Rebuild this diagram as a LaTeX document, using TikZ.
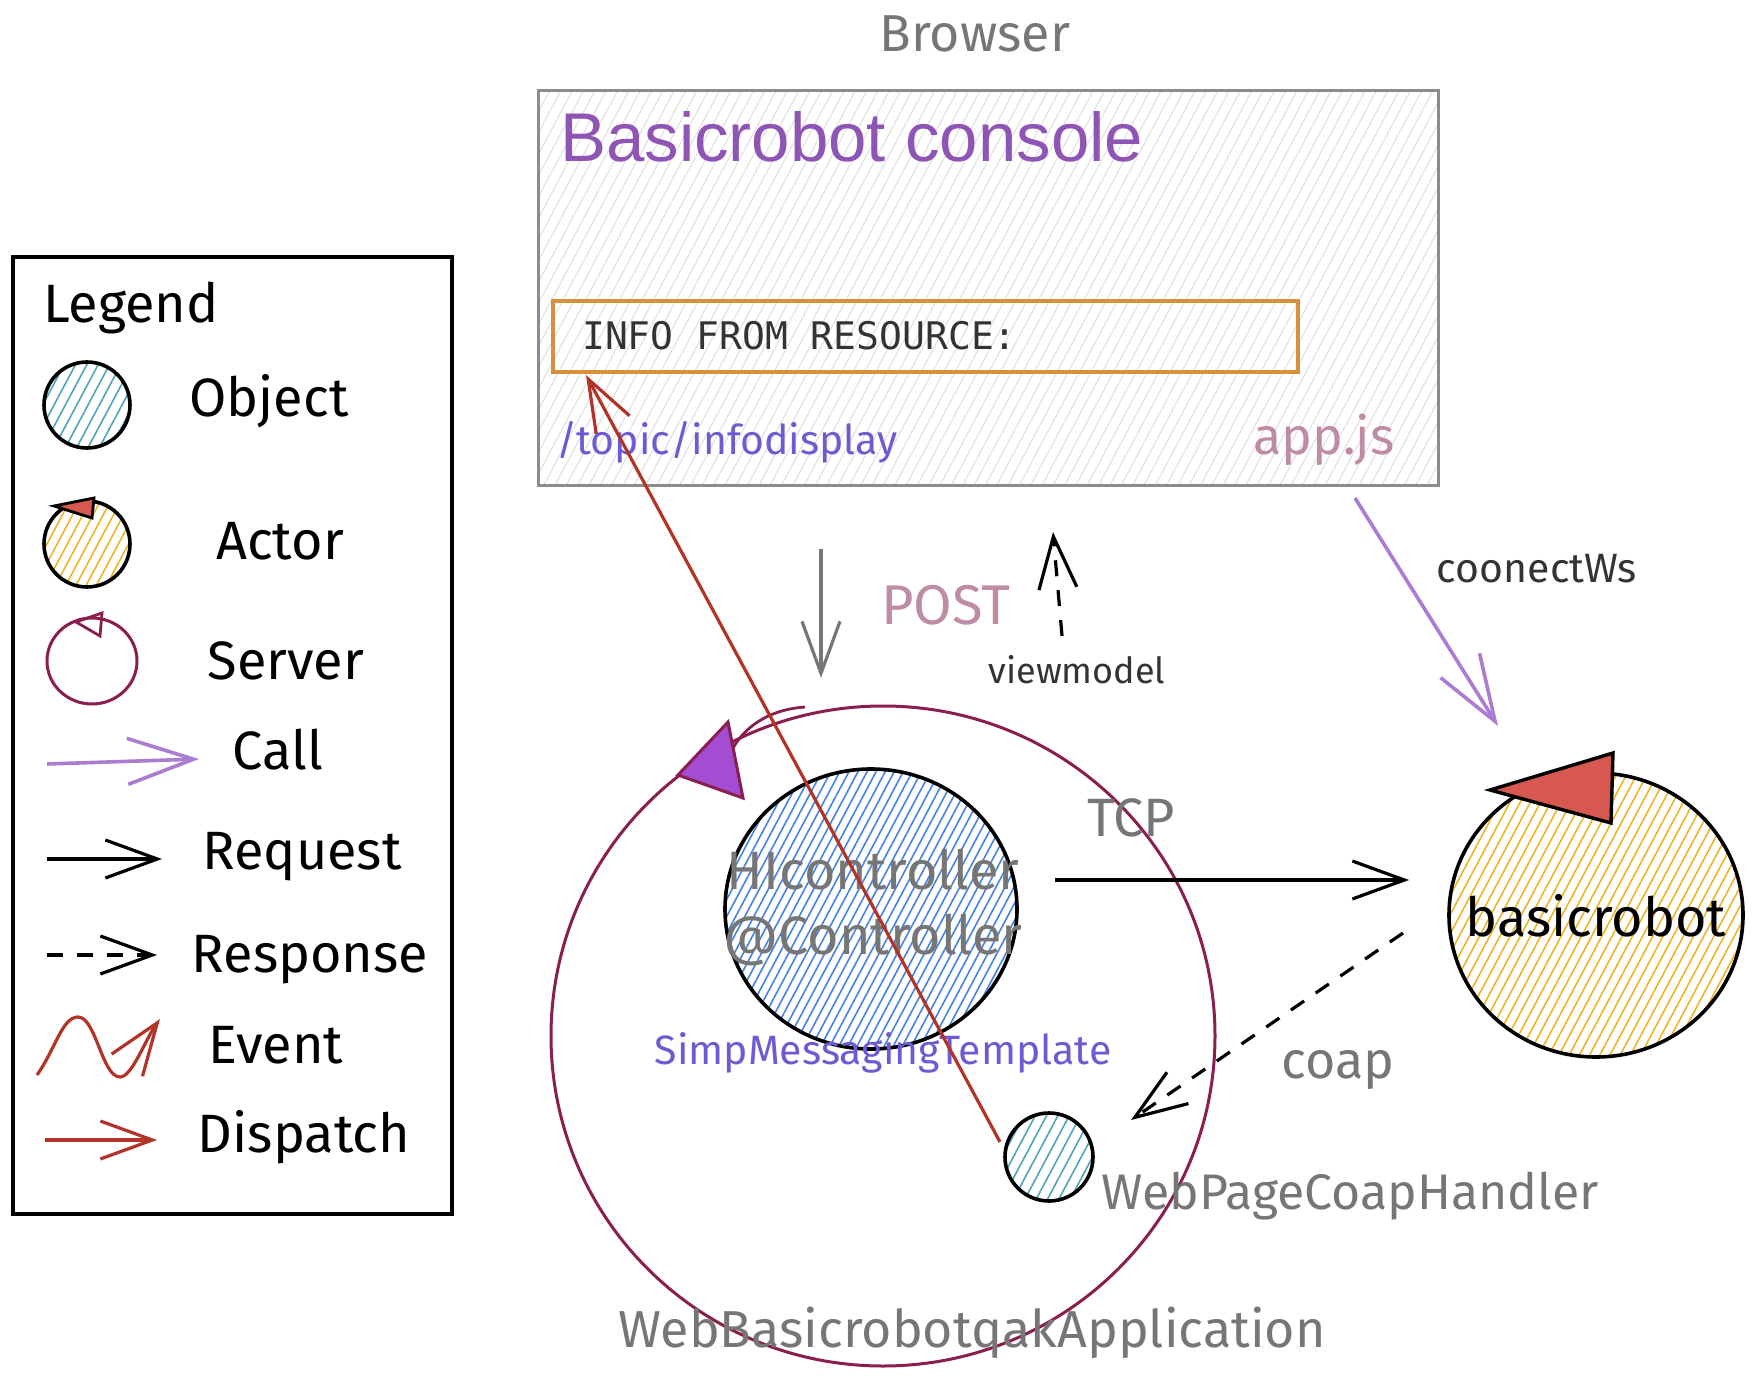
\documentclass[tikz,border=0pt]{standalone}
\usepackage{fontspec}
\setmainfont{Fira Sans}
\newfontfamily\consolefont{Liberation Sans}
\newfontfamily\infofont{DejaVu Sans Mono}
\usetikzlibrary{arrows.meta,patterns.meta,shapes.geometric}
\definecolor{srv}{RGB}{138,30,78}
\definecolor{objteal}{RGB}{78,165,185}
\definecolor{objblue}{RGB}{70,130,225}
\definecolor{actyel}{RGB}{236,180,40}
\definecolor{actred}{RGB}{214,88,80}
\definecolor{callpur}{RGB}{170,125,210}
\definecolor{disred}{RGB}{178,52,40}
\definecolor{txtgray}{RGB}{118,118,118}
\definecolor{boxgray}{RGB}{140,140,140}
\definecolor{hatchgray}{RGB}{222,222,222}
\definecolor{slate}{RGB}{110,90,210}
\definecolor{pinkish}{RGB}{190,140,165}
\definecolor{titlepur}{RGB}{142,85,180}
\definecolor{infoorange}{RGB}{214,145,60}
\definecolor{trifill}{RGB}{163,78,210}
\begin{document}
\begin{tikzpicture}[x=1pt,y=-1pt,
  lbl/.style={inner sep=0pt, font=\fontsize{54}{60}\selectfont},
  hand/.style={inner sep=0pt, font=\fontsize{#1}{#1}\selectfont},
  objteal/.style={ellipse, draw=black, line width=3.6pt, pattern={Lines[angle=62,distance=10pt,line width=1.6pt]}, pattern color=objteal},
  objblue/.style={ellipse, draw=black, line width=3.6pt, pattern={Lines[angle=62,distance=8pt,line width=1.6pt]}, pattern color=objblue},
  actorc/.style={ellipse, draw=black, line width=3.6pt, pattern={Lines[angle=62,distance=9pt,line width=1.6pt]}, pattern color=actyel},
  serverc/.style={ellipse, draw=srv, line width=3pt},
  barb/.style={-{Straight Barb[length=52pt,width=38pt]}},
  bigbarb/.style={-{Straight Barb[length=66pt,width=46pt]}},
  callarr/.style={bigbarb, draw=callpur, line width=3.6pt},
  reqarr/.style={barb, draw=black, line width=3.2pt},
  resparr/.style={barb, draw=black, line width=3.2pt, dash pattern=on 16pt off 14pt},
  disparr/.style={barb, draw=disred, line width=3.2pt},
  postarr/.style={barb, draw=txtgray, line width=3.2pt}
]
\useasboundingbox (0,0) rectangle (1756,1380);

% ---------------- Legend ----------------
\node[draw=black, line width=3.6pt, minimum width=439pt, minimum height=957pt, inner sep=0pt, anchor=north west] (legendbox) at (11,255) {};
\node[lbl, anchor=west] (legendt) at (43,308) {Legend};

\node[objteal, minimum width=86pt, minimum height=86pt] (lobj) at (87,405) {};
\node[lbl] (lobjt) at (269,401) {Object};

\node[actorc, minimum width=86pt, minimum height=86pt] (lact) at (87,544) {};
\draw[fill=actred, draw=black, line width=2.8pt] (54,506) -- (94,498) -- (92,518) -- cycle;
\node[lbl] (lactt) at (280,541) {Actor};

\node[serverc, minimum width=90pt, minimum height=86pt] (lsrv) at (92,661) {};
\draw[draw=srv, line width=2.8pt] (76,622) -- (102,613) -- (100,636) -- cycle;
\node[lbl] (lsrvt) at (286,661) {Server};

\coordinate (lcallS) at (47,764);
\coordinate (lcallE) at (199,759);
\draw[callarr] (lcallS) -- (lcallE);
\node[lbl] (lcallt) at (278,750) {Call};

\coordinate (lreqS) at (47,859);
\coordinate (lreqE) at (162,859);
\draw[reqarr] (lreqS) -- (lreqE);
\node[lbl] (lreqt) at (302,857) {Request};

\coordinate (lresS) at (47,955);
\coordinate (lresE) at (157,955);
\draw[resparr] (lresS) -- (lresE);
\node[lbl] (lrest) at (310,960) {Response};

\coordinate (levS) at (37,1075);
\coordinate (levE) at (160,1019);
\draw[disparr] (levS) .. controls (55,1050) and (62,1017) .. (78,1017)
  .. controls (96,1017) and (102,1077) .. (120,1077)
  .. controls (132,1077) and (145,1040) .. (levE);
\node[lbl] (levt) at (276,1045) {Event};

\coordinate (ldisS) at (45,1140);
\coordinate (ldisE) at (157,1140);
\draw[disparr] (ldisS) -- (ldisE);
\node[lbl] (ldist) at (304,1137) {Dispatch};

% ---------------- Browser ----------------
\node[hand=52, text=txtgray] (browsert) at (975,34) {Browser};
\node[draw=boxgray, line width=3.4pt, minimum width=900pt, minimum height=395pt, inner sep=0pt, anchor=north west,
  pattern={Lines[angle=62,distance=10pt,line width=1pt]}, pattern color=hatchgray] (browser) at (538,90) {};
\node[inner sep=0pt, anchor=west, text=titlepur, font=\consolefont\fontsize{69}{72}\selectfont] (title) at (560,137) {Basicrobot console};
\node[draw=infoorange, line width=4pt, minimum width=745pt, minimum height=71pt, inner sep=0pt, anchor=north west] (infobox) at (551,299) {};
\node[inner sep=0pt, anchor=west, text=black!80, font=\infofont\fontsize{38}{40}\selectfont] (infot) at (582,336) {INFO FROM RESOURCE:};
\node[hand=41, text=slate] (topict) at (727,442) {/topic/infodisplay};
\node[hand=52, text=pinkish] (appjs) at (1324,440) {app.js};

% POST / viewmodel
\coordinate (postS) at (821,549);
\coordinate (postE) at (821,678);
\draw[postarr] (postS) -- (postE);
\node[hand=56, text=pinkish] (postt) at (946,605) {POST};

\coordinate (vmS) at (1062,636);
\coordinate (vmE) at (1053,532);
\draw[resparr] (vmS) -- (vmE);
\node[hand=36, text=black!80] (vmt) at (1077,670) {viewmodel};

% coonectWs
\coordinate (cwS) at (1355,498);
\coordinate (cwE) at (1498,726);
\draw[callarr] (cwS) -- (cwE);
\node[hand=41, text=black!80] (cwt) at (1537,569) {coonectWs};

% ---------------- Server application ----------------
\node[serverc, minimum width=664pt, minimum height=660pt] (app) at (883,1036) {};
\draw[srv, line width=2.8pt] (805,707) .. controls (775,709) and (748,722) .. (733,748);
\draw[fill=trifill, draw=srv, line width=3pt] (678,775) -- (728,722) -- (743,798) -- cycle;
\node[hand=52, text=txtgray] (appt) at (972,1333) {WebBasicrobotqakApplication};

\node[objblue, minimum width=292pt, minimum height=280pt] (hic) at (871,909) {};
\node[hand=54, text=txtgray, align=center, font=\fontsize{54}{65}\selectfont] (hict) at (873,907) {HIcontroller\\@Controller};
\node[hand=41, text=slate] (simpt) at (883,1053) {SimpMessagingTemplate};

\node[objteal, minimum width=88pt, minimum height=88pt] (wpch) at (1049,1157) {};
\node[hand=50, text=txtgray] (wpcht) at (1350,1196) {WebPageCoapHandler};

% ---------------- basicrobot ----------------
\node[actorc, minimum width=294pt, minimum height=284pt] (robot) at (1596,915) {};
\draw[fill=actred, draw=black, line width=3.4pt] (1490,790) -- (1613,753) -- (1611,823) -- cycle;
\node[hand=54, text=black] (robott) at (1596,916) {basicrobot};

% TCP
\coordinate (tcpS) at (1055,880);
\coordinate (tcpE) at (1409,880);
\draw[reqarr] (tcpS) -- (tcpE);
\node[hand=54, text=txtgray] (tcpt) at (1131,818) {TCP};

% coap
\coordinate (coapS) at (1403,933);
\coordinate (coapE) at (1131,1120);
\draw[resparr] (coapS) -- (coapE);
\node[hand=52, text=txtgray] (coapt) at (1338,1070) {coap};

% dispatch red
\coordinate (dispS) at (1000,1142);
\coordinate (dispE) at (586,375);
\draw[disparr] (dispS) -- (dispE);
\end{tikzpicture}
\end{document}
